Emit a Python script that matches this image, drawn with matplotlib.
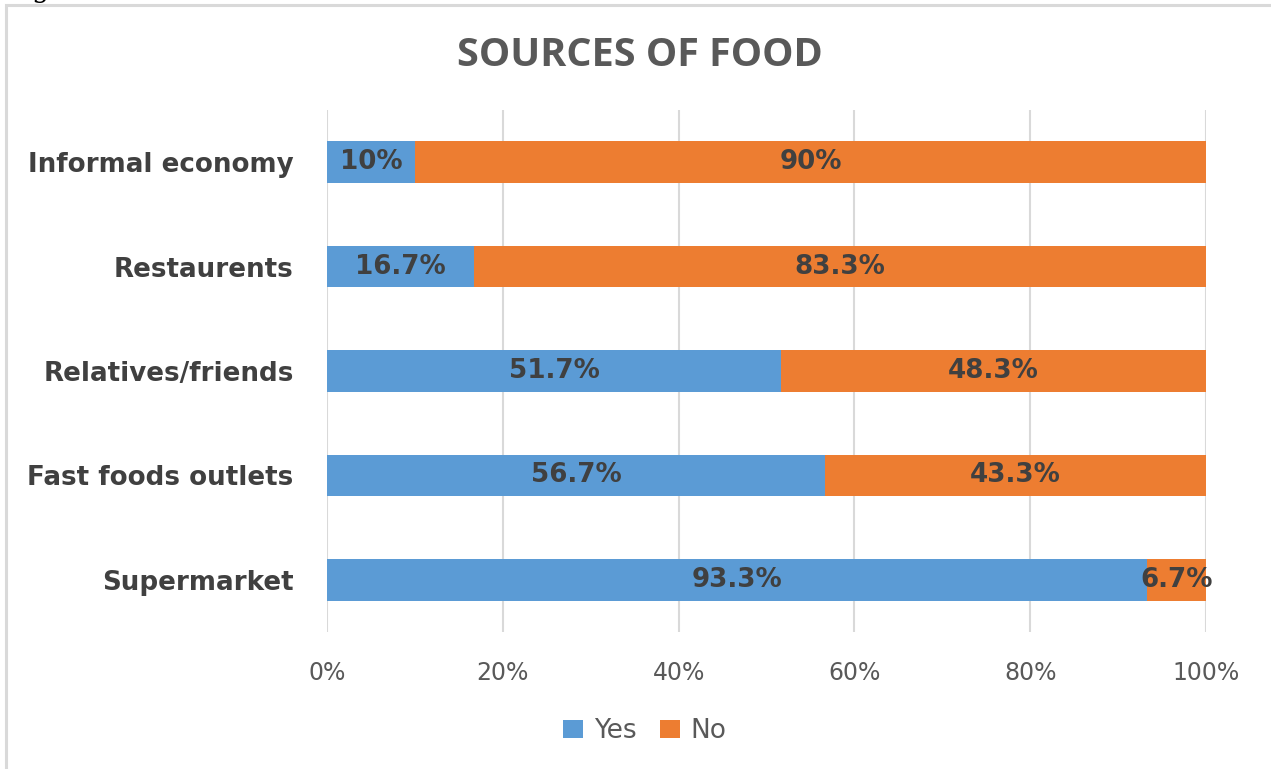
import matplotlib.pyplot as plt
from matplotlib.patches import Rectangle

# data, bottom to top as drawn
sources = ["Supermarket", "Fast foods outlets", "Relatives/friends", "Restaurents", "Informal economy"]
yes_pct = [93.3, 56.7, 51.7, 16.7, 10]
no_pct = [6.7, 43.3, 48.3, 83.3, 90]
x_ticks = [0, 20, 40, 60, 80, 100]

BLUE = "#5B9BD5"
ORANGE = "#ED7D31"
GRID = "#D9D9D9"

plt.rcParams["font.family"] = ["DejaVu Sans"]

fig = plt.figure(figsize=(12.71, 7.69), dpi=100)
ax = fig.add_axes([327 / 1271, 1 - 632 / 769, 879 / 1271, 522 / 769])

# outer chart border (runs off the right/bottom edge of the picture)
fig.patches.append(Rectangle((6 / 1271, -0.05), 1.2, 1 - 5 / 769 + 0.05,
                             transform=fig.transFigure, fill=False,
                             edgecolor=GRID, linewidth=2.2, zorder=0))

# clipped caption from the page above the chart (only the tail of the g shows)
fig.text(32 / 1271, 1.0 + 3 / 769, "g", fontsize=20, family="DejaVu Serif",
         color="black", va="baseline", ha="left")

pos = list(range(len(sources)))
bars_yes = ax.barh(pos, yes_pct, height=0.4, color=BLUE, label="Yes", zorder=3)
bars_no = ax.barh(pos, no_pct, left=yes_pct, height=0.4, color=ORANGE, label="No", zorder=3)

for bars in (bars_yes, bars_no):
    ax.bar_label(bars, labels=[f"{b.get_width():g}%" for b in bars], label_type="center",
                 fontsize=18.8, fontweight="bold", color="#404040", zorder=4)

ax.set_xlim(0, 100)
ax.set_ylim(-0.5, len(sources) - 0.5)
ax.set_xticks(x_ticks)
ax.set_xticklabels([f"{t}%" for t in x_ticks])
ax.set_yticks(pos)
ax.set_yticklabels(sources, fontweight="bold")

ax.grid(axis="x", color=GRID, linewidth=1.5, zorder=0)
ax.set_axisbelow(True)
for s in ax.spines.values():
    s.set_visible(False)

ax.tick_params(axis="x", length=0, pad=21, labelsize=17, labelcolor="#595959")
ax.tick_params(axis="y", length=0, pad=24, labelsize=18.8, labelcolor="#404040")

fig.text(640 / 1271, 1 - 55 / 769, "SOURCES OF FOOD", fontsize=28.5, fontweight="bold",
         family=["Open Sans", "DejaVu Sans"], color="#595959", ha="center", va="center")

fig.legend(loc="center", bbox_to_anchor=(645 / 1271, 1 - 731 / 769), ncol=2,
           frameon=False, fontsize=19, handlelength=0.75, handleheight=0.65,
           handletextpad=0.4, columnspacing=0.9, labelcolor="#595959")

fig.savefig("out.png", dpi=100)
